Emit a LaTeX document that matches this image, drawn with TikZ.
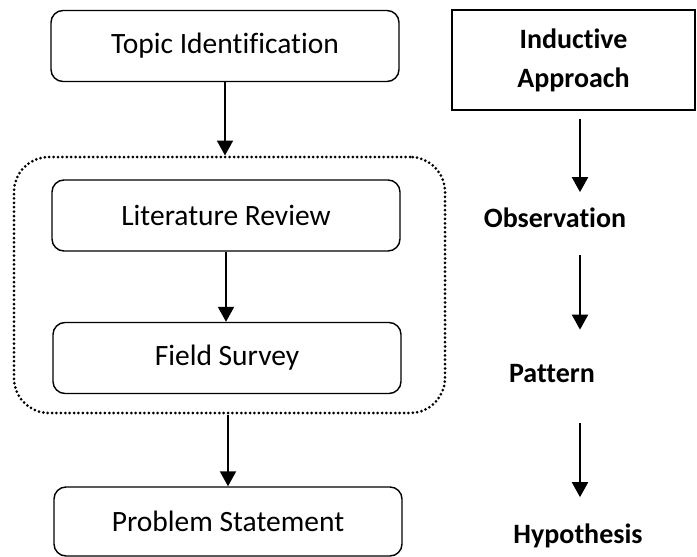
\documentclass[tikz,border=0pt]{standalone}
\usepackage{fontspec}
\setmainfont{Carlito}[Ligatures=NoCommon]
\usetikzlibrary{arrows.meta,positioning}

\begin{document}
\begin{tikzpicture}[
  x=1pt, y=-1pt,
  stage/.style={draw, rounded corners=12pt, line width=1.4pt, minimum width=348pt, minimum height=71pt, inner sep=0pt, font=\fontsize{29.5}{34}\selectfont},
  label/.style={inner sep=3pt, font=\bfseries\fontsize{28}{34}\selectfont},
  edg/.style={-{Triangle[length=15pt,width=16pt]}, line width=2pt},
  grp/.style={draw, dash pattern=on 0pt off 4.4pt, line cap=round, line width=3pt, rounded corners=35pt, minimum width=431pt, minimum height=256pt, inner sep=0pt}
]
\useasboundingbox (0,0) rectangle (697,557);

% left column
\node[stage] (TI) at (225,46) {Topic Identification};
\node[grp] (grp) at (229.5,285) {};
\node[stage] (LR) at (226,215.5) {Literature Review};
\node[stage] (FS) at (227,358) {Field Survey};
\node[stage, minimum height=69pt] (PS) at (228,521.5) {Problem Statement};

% right column
\node[draw, line width=1.4pt, minimum width=243pt, minimum height=100pt, align=center, font=\bfseries\fontsize{28}{39}\selectfont] (IA) at (573.5,60) {Inductive\\Approach};
\node[label, anchor=base] (obs) at (555,227) {Observation};
\node[label, anchor=base] (pat) at (552,382) {Pattern};
\node[label, anchor=base] (hyp) at (578,543) {Hypothesis};
\coordinate (ax) at (580,0);

\draw[edg] (TI.south) -- (TI.south |- grp.north);
\draw[edg] (LR.south) -- (LR.south |- FS.north);
\draw[edg] (PS.north |- grp.south) -- (PS.north);

\draw[edg, shorten <=8pt, shorten >=12pt] (IA.south -| ax) -- (obs.north -| ax);
\draw[edg, shorten <=25pt, shorten >=31pt] (obs.south -| ax) -- (pat.north -| ax);
\draw[edg, shorten <=38pt, shorten >=23pt] (pat.south -| ax) -- (hyp.north -| ax);

\end{tikzpicture}
\end{document}
